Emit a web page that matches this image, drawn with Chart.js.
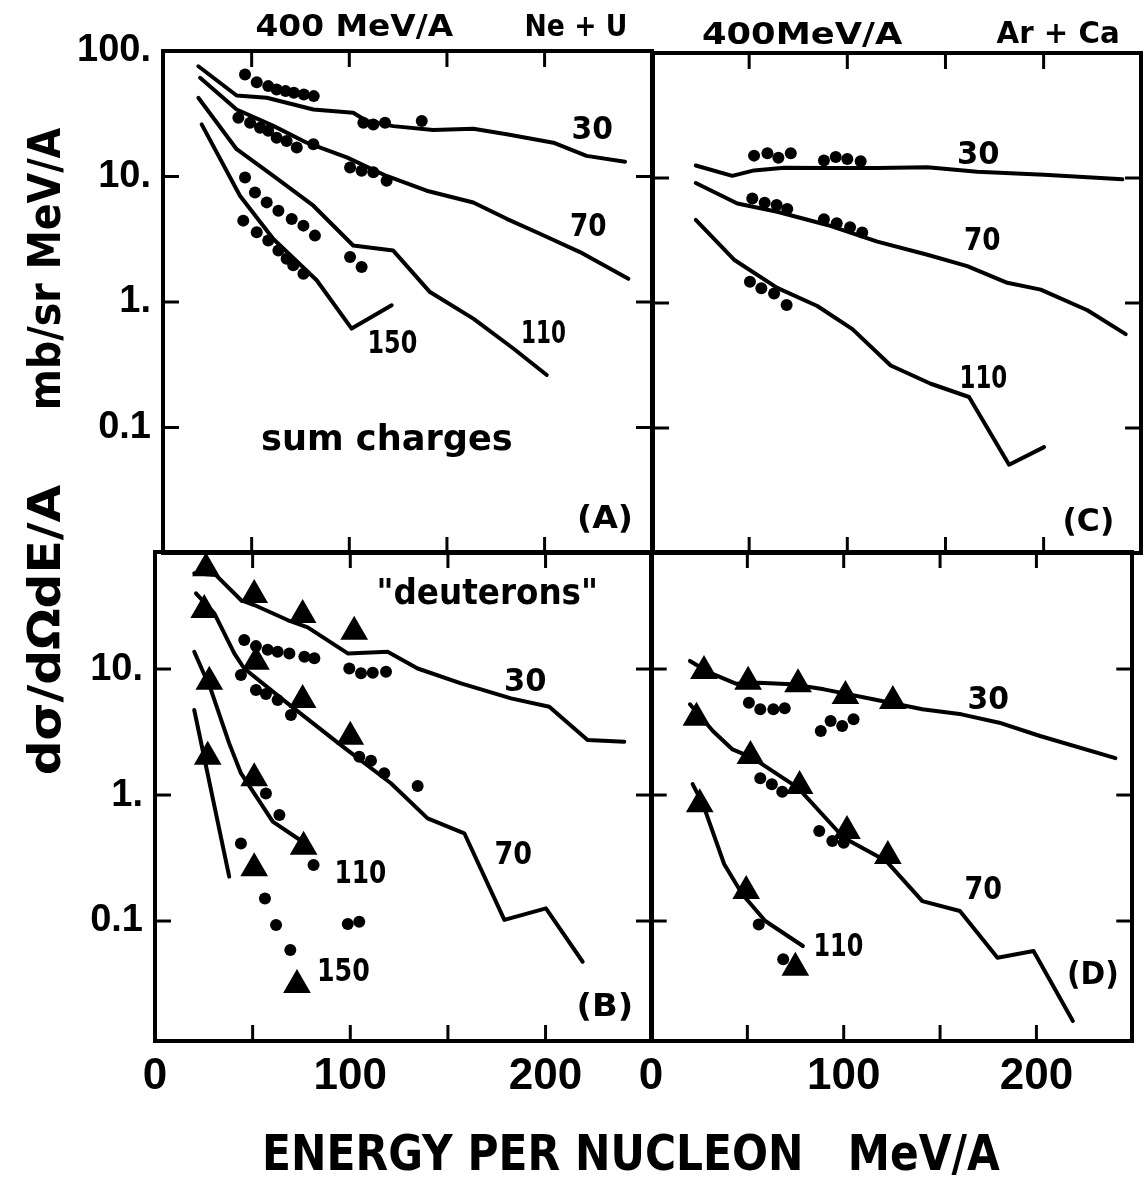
<!DOCTYPE html>
<html>
<head>
<meta charset="utf-8">
<title>400 MeV/A Ne+U and Ar+Ca fragment spectra</title>
<script src="https://cdn.jsdelivr.net/npm/chart.js@4.4.1/dist/chart.umd.min.js"></script>
<style>
  html, body { margin:0; padding:0; background:#fff; }
  #wrap { position:relative; width:1148px; height:1182px; overflow:hidden; background:#fff; }
  #wrap canvas { position:absolute; left:0; top:0; }
  .lbl { position:absolute; white-space:pre; font-family:'DejaVu Sans','Liberation Sans',sans-serif; font-weight:bold; color:#000; line-height:1; transform-origin:50% 50%; }
</style>
</head>
<body>
<div id="wrap">
  <canvas id="panelA" width="1148" height="1182"></canvas>
  <canvas id="panelB" width="1148" height="1182"></canvas>
  <canvas id="panelC" width="1148" height="1182"></canvas>
  <canvas id="panelD" width="1148" height="1182"></canvas>
</div>
<script>
// ===================== DATA (energy per nucleon in MeV/A, cross sections in mb/sr MeV/A) =====================
// ---- Panel A : Ne + U, sum charges ----
const A_line30_E = [22.7, 42.3, 57.7, 81.6, 102, 108.9, 122.5, 143, 163.5, 180.6, 204.5, 221.5, 241.2];
const A_line30_V = [75.6, 44.2, 42.4, 34.2, 32.2, 27.7, 25.2, 23.5, 24.0, 21.7, 18.6, 14.6, 13.1];
const A_dot30_E  = [46.6, 52.6, 58.5, 62.8, 67.4, 71.6, 76.7, 81.8, 107.2, 112.3, 118.3, 137.1];
const A_dot30_V  = [64.9, 56.4, 52.5, 49.3, 47.9, 46.4, 45.0, 43.7, 26.8, 26.0, 26.8, 27.7];
const A_line70_E = [23.6, 42.3, 61.1, 78.2, 98.7, 119.1, 139.6, 163.5, 180.6, 197.6, 218.1, 242.9];
const A_line70_V = [61.1, 34.2, 25.3, 18.6, 14.2, 10.1, 7.7, 6.2, 4.6, 3.5, 2.5, 1.53];
const A_dot70_E  = [43.2, 49.2, 54.3, 58.5, 62.8, 67.9, 73.1, 81.6, 100.4, 106.3, 112.3, 119.1];
const A_dot70_V  = [29.4, 26.8, 24.5, 23.1, 20.4, 19.2, 17.0, 18.1, 11.8, 11.1, 10.8, 9.25];
const A_line110_E = [22.7, 42.3, 61.1, 81.6, 102, 122.5, 141.3, 163.5, 184, 201.1];
const A_line110_V = [42.4, 16.5, 10.1, 5.85, 2.82, 2.57, 1.2, 0.737, 0.426, 0.262];
const A_dot110_E  = [46.6, 51.7, 57.7, 63.7, 70.5, 76.5, 82.4, 100.4, 106.3];
const A_dot110_V  = [9.8, 7.46, 6.22, 5.34, 4.58, 4.06, 3.38, 2.28, 1.90];
const A_line150_E = [24.4, 44, 61.1, 83.3, 101.2, 121.7];
const A_line150_V = [26.0, 7.03, 3.18, 1.49, 0.614, 0.941];
const A_dot150_E  = [45.7, 52.6, 58.5, 63.7, 67.9, 71.3, 76.5];
const A_dot150_V  = [4.45, 3.59, 3.09, 2.57, 2.21, 1.96, 1.68];

// ---- Panel B : Ne + U, "deuterons" ----
const B_line30_E = [20.1, 31.2, 44, 50.8, 67.9, 78.2, 98.7, 119.1, 134.5, 156.7, 182.3, 201.9, 221.5, 240.3];
const B_line30_V = [57.5, 55.7, 35.3, 32.2, 24.5, 21.4, 13.3, 13.7, 10.1, 7.7, 5.85, 5.02, 2.73, 2.65];
const B_tri30_E  = [26.1, 50.8, 75.6, 102];
const B_tri30_V  = [63, 38.7, 26.8, 19.8];
const B_dot30_E  = [45.7, 51.7, 57.7, 62.8, 68.8, 76.5, 81.6, 99.5, 105.5, 111.5, 118.3];
const B_dot30_V  = [17, 15.2, 14.2, 13.7, 13.3, 12.5, 12.2, 10.1, 9.25, 9.35, 9.5];
const B_line70_E = [21, 30.4, 40.6, 45.7, 67.9, 95.2, 120.8, 139.6, 158.4, 178.9, 200.2, 219];
const B_line70_V = [39.9, 27.7, 13.3, 10.1, 5.34, 2.49, 1.24, 0.653, 0.497, 0.102, 0.126, 0.0475];
const B_tri70_E  = [25.2, 51.7, 75.6, 100];
const B_tri70_V  = [29.4, 11.4, 5.68, 2.9];
const B_dot70_E  = [44, 51.7, 56.8, 62.8, 69.6, 104.6, 110.6, 117.4, 134.5];
const B_dot70_V  = [8.96, 6.81, 6.33, 5.68, 4.31, 2.01, 1.87, 1.49, 1.18];
const B_line110_E = [20.1, 28.7, 38, 44, 60.3, 75.6];
const B_line110_V = [13.7, 6.81, 2.57, 1.49, 0.614, 0.426];
const B_tri110_E  = [27.8, 50.8, 76.1];
const B_tri110_V  = [7.93, 1.36, 0.389];
const B_dot110_E  = [56.8, 63.7, 81.2, 98.7, 104.6];
const B_dot110_V  = [1.03, 0.694, 0.278, 0.0947, 0.0988];
const B_line150_E = [20.1, 38];
const B_line150_V = [4.73, 0.225];
const B_tri150_E  = [27, 50.8, 72.7];
const B_tri150_V  = [2.01, 0.262, 0.031];
const B_dot150_E  = [44, 56.3, 62, 69.3];
const B_dot150_V  = [0.413, 0.151, 0.093, 0.0589];

// ---- Panel C : Ar + Ca, sum charges ----
const C_line30_E = [22.8, 41.4, 52.5, 67.8, 89.8, 115.3, 140.8, 166.2, 200.2, 240.1];
const C_line30_V = [12.6, 10.4, 11.5, 12.1, 12.0, 12.0, 12.2, 11.2, 10.6, 9.77];
const C_dot30_E  = [52.5, 59.3, 64.9, 71.2, 88.1, 94.1, 100, 106.8];
const C_dot30_V  = [15.1, 15.8, 14.5, 15.8, 13.8, 14.7, 14.2, 13.6];
const C_line70_E = [22.8, 44, 64.3, 89.8, 115.3, 140.8, 161.1, 181.5, 198.5, 222.3, 241.8];
const C_line70_V = [9.12, 6.25, 5.37, 4.21, 3.10, 2.43, 1.97, 1.45, 1.28, 0.875, 0.564];
const C_dot70_E  = [51.6, 57.9, 64, 69.4, 88.1, 94.6, 101.4, 107.6];
const C_dot70_V  = [6.85, 6.33, 6.07, 5.64, 4.67, 4.34, 4.03, 3.66];
const C_line110_E = [22.8, 42.3, 64.3, 84.7, 102.6, 122.1, 142.5, 162, 182.4, 200.2];
const C_line110_V = [4.62, 2.22, 1.32, 0.947, 0.618, 0.316, 0.226, 0.177, 0.0508, 0.0703];
const C_dot110_E  = [50.4, 56.2, 62.7, 69.1];
const C_dot110_V  = [1.48, 1.31, 1.19, 0.964];

// ---- Panel D : Ar + Ca, "deuterons" ----
const D_line30_E = [20.2, 30.4, 44, 55.9, 72.8, 89.8, 115.3, 140.8, 161.1, 180.7, 201.9, 241];
const D_line30_V = [11.6, 9.35, 7.65, 7.79, 7.56, 6.9, 5.75, 4.79, 4.37, 3.75, 2.94, 1.96];
const D_tri30_E  = [27.5, 50.4, 76.3, 100.9, 125.5];
const D_tri30_V  = [9.64, 7.93, 7.56, 6.11, 5.57];
const D_dot30_E  = [50.8, 56.7, 63.5, 69.4, 88.1, 93.2, 99.2, 105.1];
const D_dot30_V  = [5.4, 4.79, 4.79, 4.88, 3.22, 3.87, 3.53, 3.99];
const D_line70_E = [20.2, 32.1, 42.3, 52.5, 76.3, 100, 122.1, 140.8, 160.3, 179.8, 198.5, 218.9];
const D_line70_V = [5.25, 3.22, 2.3, 1.98, 1.14, 0.458, 0.299, 0.144, 0.12, 0.0511, 0.0578, 0.0161];
const D_tri70_E  = [23.6, 51.6, 77.1, 101.7, 122.9];
const D_tri70_V  = [4.11, 2.04, 1.18, 0.518, 0.328];
const D_dot70_E  = [56.7, 62.7, 68.1, 87.3, 94.1, 100];
const D_dot70_V  = [1.36, 1.22, 1.06, 0.518, 0.431, 0.418];
const D_line110_E = [21.6, 27, 38, 47.4, 59.3, 78.8];
const D_line110_V = [1.22, 0.844, 0.282, 0.163, 0.1, 0.0633];
const D_tri110_E  = [25.3, 49.4, 74.9];
const D_tri110_V  = [0.844, 0.173, 0.0426];
const D_dot110_E  = [55.9, 68.6];
const D_dot110_V  = [0.094, 0.0497];

// ---- axis ticks and their labels ----
const X_TICKS = [0, 50, 100, 150, 200];
const X_TICK_LABELS = ['0', '', '100', '', '200'];
const Y_TICKS = [100, 10, 1, 0.1];
const Y_TICK_LABELS = ['100.', '10.', '1.', '0.1'];

// ===================== STYLE / LAYOUT =====================
const PAGE_W = 1148, PAGE_H = 1182;
const Y_AXIS_W = 140, X_AXIS_H = 80, TICK_LEN = 16;
const TICK_FONT_X = { family: "'Liberation Sans Narrow','Liberation Sans',sans-serif", size: 44, weight: 'bold' };
const TICK_FONT_Y = { family: "'Liberation Sans Narrow','Liberation Sans',sans-serif", size: 38, weight: 'bold' };

function pts(E, V) { return E.map((e, i) => ({ x: e, y: V[i] })); }
function line(E, V) {
  return { data: pts(E, V), showLine: true, borderColor: '#000', borderWidth: 4, pointRadius: 0,
           fill: false, tension: 0, borderCapStyle: 'round', borderJoinStyle: 'round' };
}
function dots(E, V) {
  return { data: pts(E, V), showLine: false, pointStyle: 'circle', pointRadius: 6,
           backgroundColor: '#000', borderColor: '#000', borderWidth: 0 };
}
function tris(E, V) {
  return { data: pts(E, V), showLine: false, pointStyle: 'triangle', pointRadius: 16,
           backgroundColor: '#000', borderColor: '#000', borderWidth: 0 };
}

// inward tick marks as short line datasets, located at the tick values of the axes
function tickMarks(p) {
  const sets = [];
  const seg = (a, b) => ({ data: [a, b], showLine: true, borderColor: '#000', borderWidth: 3,
                           pointRadius: 0, fill: false, tension: 0, borderCapStyle: 'butt', clip: 4 });
  const f = Math.pow(10, TICK_LEN * Math.log10(p.ymax / p.ymin) / (p.B - p.T));
  const dx = TICK_LEN * (p.xmax - p.xmin) / (p.R - p.L);
  X_TICKS.filter(v => v > p.xmin + 1e-6 && v < p.xmax - 1e-6).forEach(v => {
    sets.push(seg({ x: v, y: p.ymax }, { x: v, y: p.ymax / f }));
    sets.push(seg({ x: v, y: p.ymin }, { x: v, y: p.ymin * f }));
  });
  Y_TICKS.filter(v => v > p.ymin * 1.001 && v < p.ymax * 0.999).forEach(v => {
    sets.push(seg({ x: p.xmin, y: v }, { x: p.xmin + dx, y: v }));
    sets.push(seg({ x: p.xmax, y: v }, { x: p.xmax - dx, y: v }));
  });
  return sets;
}

// panel frame, drawn around the chart area
const framePlugin = {
  id: 'frame',
  afterDraw(chart) {
    const ctx = chart.ctx, a = chart.chartArea;
    ctx.save();
    ctx.strokeStyle = '#000';
    ctx.lineWidth = 4;
    ctx.strokeRect(a.left, a.top, a.right - a.left, a.bottom - a.top);
    ctx.restore();
  }
};

function makePanel(id, datasets, p) {
  const pad = {
    left: p.showY ? p.L - Y_AXIS_W : p.L,
    top: p.T,
    right: PAGE_W - p.R,
    bottom: p.showX ? PAGE_H - p.B - X_AXIS_H : PAGE_H - p.B
  };
  const chart = new Chart(document.getElementById(id), {
    type: 'scatter',
    data: { datasets: datasets.concat(tickMarks(p)) },
    options: {
      responsive: false, animation: false, devicePixelRatio: 1, events: [],
      layout: { padding: pad },
      plugins: { legend: { display: false }, tooltip: { enabled: false } },
      scales: {
        x: {
          type: 'linear', position: 'bottom', min: p.xmin, max: p.xmax,
          grid: { display: false, drawTicks: false }, border: { display: false },
          ticks: { display: p.showX, autoSkip: false, maxRotation: 0, padding: 9,
                   color: '#000', font: TICK_FONT_X,
                   callback: v => { const i = X_TICKS.indexOf(v); return i >= 0 ? X_TICK_LABELS[i] : ''; } },
          afterBuildTicks: s => {
            s.ticks = X_TICKS.filter(v => v >= s.min - 1e-9 && v <= s.max + 1e-9).map(v => ({ value: v }));
          },
          afterFit: s => { s.height = p.showX ? X_AXIS_H : 0; s.paddingLeft = 0; s.paddingRight = 0; }
        },
        y: {
          type: 'logarithmic', position: 'left', min: p.ymin, max: p.ymax,
          grid: { display: false, drawTicks: false }, border: { display: false },
          ticks: { display: p.showY, autoSkip: false, padding: 12, color: '#000', font: TICK_FONT_Y,
                   callback: v => { const i = Y_TICKS.indexOf(v); return i >= 0 ? Y_TICK_LABELS[i] : ''; } },
          afterBuildTicks: s => {
            s.ticks = Y_TICKS.filter(v => v >= s.min * 0.9999 && v <= s.max * 1.0001).map(v => ({ value: v }));
          },
          afterFit: s => { s.width = p.showY ? Y_AXIS_W : 0; s.paddingTop = 0; s.paddingBottom = 0; }
        }
      }
    },
    plugins: [framePlugin]
  });
  // nudge the layout padding so the plot area lands exactly on the intended frame
  for (let k = 0; k < 2; k++) {
    const a = chart.chartArea;
    const dl = p.L - a.left, dr = a.right - p.R, dt = p.T - a.top, db = a.bottom - p.B;
    if (Math.abs(dl) < 0.5 && Math.abs(dr) < 0.5 && Math.abs(dt) < 0.5 && Math.abs(db) < 0.5) break;
    pad.left += dl; pad.right += dr; pad.top += dt; pad.bottom += db;
    chart.options.layout.padding = { left: pad.left, right: pad.right, top: pad.top, bottom: pad.bottom };
    chart.update('none');
  }
  return chart;
}

makePanel('panelA', [
  line(A_line30_E, A_line30_V), dots(A_dot30_E, A_dot30_V),
  line(A_line70_E, A_line70_V), dots(A_dot70_E, A_dot70_V),
  line(A_line110_E, A_line110_V), dots(A_dot110_E, A_dot110_V),
  line(A_line150_E, A_line150_V), dots(A_dot150_E, A_dot150_V)
], { L: 163, T: 51, R: 652, B: 553, xmin: 4.6, xmax: 255, ymin: 0.01, ymax: 100, showX: false, showY: true });

makePanel('panelB', [
  line(B_line30_E, B_line30_V), tris(B_tri30_E, B_tri30_V), dots(B_dot30_E, B_dot30_V),
  line(B_line70_E, B_line70_V), tris(B_tri70_E, B_tri70_V), dots(B_dot70_E, B_dot70_V),
  line(B_line110_E, B_line110_V), tris(B_tri110_E, B_tri110_V), dots(B_dot110_E, B_dot110_V),
  line(B_line150_E, B_line150_V), tris(B_tri150_E, B_tri150_V), dots(B_dot150_E, B_dot150_V)
], { L: 155, T: 552, R: 652, B: 1041, xmin: 0, xmax: 254.5, ymin: 0.01116, ymax: 84.9, showX: true, showY: true });

makePanel('panelC', [
  line(C_line30_E, C_line30_V), dots(C_dot30_E, C_dot30_V),
  line(C_line70_E, C_line70_V), dots(C_dot70_E, C_dot70_V),
  line(C_line110_E, C_line110_V), dots(C_dot110_E, C_dot110_V)
], { L: 653, T: 53, R: 1141, B: 553, xmin: 1.02, xmax: 249.6, ymin: 0.01, ymax: 100, showX: false, showY: false });

makePanel('panelD', [
  line(D_line30_E, D_line30_V), tris(D_tri30_E, D_tri30_V), dots(D_dot30_E, D_dot30_V),
  line(D_line70_E, D_line70_V), tris(D_tri70_E, D_tri70_V), dots(D_dot70_E, D_dot70_V),
  line(D_line110_E, D_line110_V), tris(D_tri110_E, D_tri110_V), dots(D_dot110_E, D_dot110_V)
], { L: 651, T: 552, R: 1141, B: 1041, xmin: 0, xmax: 249.6, ymin: 0.01116, ymax: 84.9, showX: true, showY: false });

// ===================== TEXT (titles, axis titles, curve annotations) =====================
// [text, centreX, centreY, fontSize, targetWidth, rotationDeg]
const TEXTS = [
  ['400 MeV/A', 354, 26, 30, 198, 0],
  ['Ne + U', 576, 26, 30, 103, 0],
  ['400MeV/A', 802, 34, 30, 200, 0],
  ['Ar + Ca', 1058, 33, 30, 123, 0],
  ['mb/sr MeV/A', 45, 269, 44, 282, -90],
  ['d\u03c3/d\u03a9dE/A', 45, 630, 44, 290, -90],
  ['ENERGY PER NUCLEON   MeV/A', 631, 1153, 50, 738, 0],
  ['30', 592, 128, 32, 42, 0], ['70', 588, 225, 32, 37, 0], ['110', 543, 332, 32, 45, 0],
  ['150', 392, 342, 32, 50, 0], ['sum charges', 387, 438, 36, 252, 0], ['(A)', 605, 517, 32, 56, 0],
  ['30', 978, 153, 32, 43, 0], ['70', 982, 239, 32, 37, 0], ['110', 983, 377, 32, 48, 0], ['(C)', 1088, 520, 32, 52, 0],
  ['"deuterons"', 487, 592, 36, 222, 0], ['30', 525, 680, 32, 43, 0], ['70', 513, 853, 32, 38, 0],
  ['110', 360, 872, 32, 52, 0], ['150', 343, 970, 32, 53, 0], ['(B)', 605, 1005, 32, 57, 0],
  ['30', 988, 698, 32, 42, 0], ['70', 983, 888, 32, 38, 0], ['110', 838, 945, 32, 50, 0], ['(D)', 1093, 973, 32, 52, 0]
];

const wrap = document.getElementById('wrap');
TEXTS.forEach(([txt, cx, cy, size, w, rot]) => {
  const el = document.createElement('div');
  el.className = 'lbl';
  el.textContent = txt;
  el.style.fontSize = size + 'px';
  wrap.appendChild(el);
  const nw = el.offsetWidth, nh = el.offsetHeight;
  const k = w / nw;
  el.style.left = (cx - nw / 2) + 'px';
  el.style.top = (cy - nh / 2) + 'px';
  el.style.transform = 'rotate(' + rot + 'deg) scaleX(' + k.toFixed(3) + ')';
});
</script>
</body>
</html>
